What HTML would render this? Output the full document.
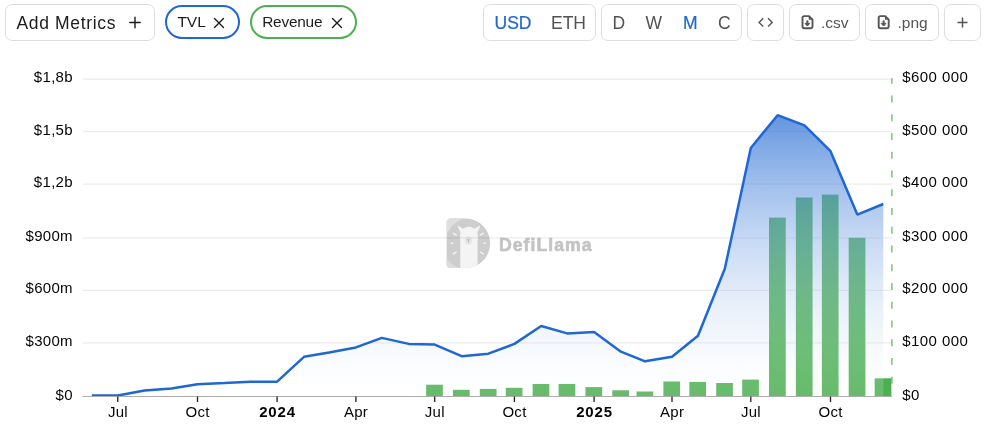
<!DOCTYPE html>
<html><head><meta charset="utf-8">
<style>
html,body{margin:0;padding:0;background:#fff;}
body{width:987px;height:427px;position:relative;overflow:hidden;font-family:"Liberation Sans",sans-serif;color:#222;}
.btn{position:absolute;top:4px;height:37px;box-sizing:border-box;border:1px solid #dedee0;border-radius:7px;background:#fff;}
.t{position:absolute;white-space:nowrap;line-height:20px;}
.chip{position:absolute;top:5px;height:34px;box-sizing:border-box;border-radius:17px;border:2px solid #1f67d2;}
.yl{position:absolute;left:0;width:72.9px;text-align:right;font-size:15px;line-height:20px;color:#050505;white-space:nowrap;letter-spacing:0.3px;}
.yr{position:absolute;left:902.3px;font-size:15px;line-height:20px;color:#050505;white-space:nowrap;letter-spacing:0.42px;}
.xl{position:absolute;top:402px;width:60px;text-align:center;font-size:15px;line-height:20px;color:#050505;white-space:nowrap;letter-spacing:0.3px;padding-left:0.3px;box-sizing:border-box;}
.xl.b{font-weight:bold;letter-spacing:0.8px;padding-left:0.8px;box-sizing:border-box;}
svg{position:absolute;left:0;top:0;}
#root{position:absolute;left:0;top:0;width:987px;height:427px;will-change:transform;}
</style></head><body><div id="root">
<!-- toolbar -->
<div class="btn" style="left:5px;width:150px;"></div>
<div class="t" style="left:16.5px;top:13px;font-size:17.5px;color:#1c1c1e;letter-spacing:0.65px;">Add Metrics</div>
<div class="chip" style="left:165px;width:75px;"></div>
<div class="t" style="left:177.4px;top:11.85px;font-size:15.5px;color:#1c1c1e;">TVL</div>
<div class="chip" style="left:250px;width:107px;border-color:#4caf50;"></div>
<div class="t" style="left:262.2px;top:11.85px;font-size:15.4px;color:#1c1c1e;letter-spacing:-0.22px;">Revenue</div>
<div class="btn" style="left:483px;width:113px;"></div>
<div class="t" style="left:494.5px;top:13px;font-size:17.5px;color:#1f67d2;-webkit-text-stroke:0.2px #1f67d2;">USD</div>
<div class="t" style="left:551px;top:13px;font-size:17.5px;color:#525252;">ETH</div>
<div class="btn" style="left:601px;width:141px;"></div>
<div class="t" style="left:612.5px;top:13px;font-size:17.5px;color:#525252;">D</div>
<div class="t" style="left:645.5px;top:13px;font-size:17.5px;color:#525252;">W</div>
<div class="t" style="left:683px;top:13px;font-size:17.5px;color:#1f67d2;-webkit-text-stroke:0.2px #1f67d2;">M</div>
<div class="t" style="left:718px;top:13px;font-size:17.5px;color:#525252;">C</div>
<div class="btn" style="left:747px;width:37px;"></div>
<div class="btn" style="left:789px;width:71px;"></div>
<div class="t" style="left:821px;top:13px;font-size:15.5px;color:#545454;">.csv</div>
<div class="btn" style="left:865px;width:74px;"></div>
<div class="t" style="left:897.5px;top:13px;font-size:15.5px;color:#545454;">.png</div>
<div class="btn" style="left:944px;width:37px;"></div>

<svg width="987" height="427" viewBox="0 0 987 427">
<defs>
<linearGradient id="ag" gradientUnits="userSpaceOnUse" x1="0" y1="115" x2="0" y2="396">
<stop offset="0" stop-color="#1f67d2" stop-opacity="0.7"/>
<stop offset="1" stop-color="#ffffff" stop-opacity="0.15"/>
</linearGradient>
</defs>
<!-- toolbar icons -->
<g stroke="#1c1c1e" stroke-width="1.4" fill="none" stroke-linecap="round">
<path d="M135 17.3v10.4M129.8 22.5h10.4"/>
<path d="M214.5 18.5l9 9M223.5 18.5l-9 9"/>
<path d="M332.5 18.5l9 9M341.5 18.5l-9 9"/>
</g>
<g stroke="#555" stroke-width="1.5" fill="none" stroke-linecap="square" stroke-linejoin="miter">
<path d="M763.2 18.3l-4.1 4.100 4.1 4.100M768.1 18.3l4.1 4.100-4.1 4.100" stroke-width="1.4" stroke-linecap="butt"/>
<path d="M962.5 17.5v10M957.5 22.5h10" stroke-linecap="butt"/>
</g>
<g id="fi" stroke="#555" stroke-width="1.9" fill="none" stroke-linecap="round" stroke-linejoin="round">
<path d="M804.2 16.1h4.8l3.5 3.5v7a1.7 1.7 0 0 1-1.7 1.7h-6.6a1.7 1.7 0 0 1-1.7-1.7v-8.8a1.7 1.7 0 0 1 1.7-1.7z"/>
<path d="M809.3 16.3v2.9h2.9" stroke-width="1.2"/>
<path d="M807.4 21.2v3.4" stroke-width="2"/>
<path d="M805.3 23.7l2.1 2.3 2.1-2.3z" fill="#555" stroke-width="1"/>
</g>
<use href="#fi" x="76.2"/>
<!-- watermark -->
<g id="wm">
<clipPath id="dc"><path d="M450.6 218.6h15.4a24.1 24.7 0 0 1 0 49.4h-15.4a4 4 0 0 1-4-4v-41.4a4 4 0 0 1 4-4z"/></clipPath>
<path d="M450.6 218.6h15.4a24.1 24.7 0 0 1 0 49.4h-15.4a4 4 0 0 1-4-4v-41.4a4 4 0 0 1 4-4z" fill="#cdcdcd"/>
<g clip-path="url(#dc)">
<path d="M446 218h21a26 26 0 0 0-21 19z" fill="#dfdfdf"/>
<path d="M446 268.500h16a26 26 0 0 1-16-11z" fill="#dcdcdc"/>
<path d="M475 218h16v12a24 24 0 0 0-16-12z" fill="#d3d3d3"/>
<!-- llama -->
<path d="M457.4 225.6c1.6 .6 4 2 5.600 3.400c.7-.9 1.500-1.300 2.300-1.200c.6-.9 1.500-1.300 2.400-.9c.5-.7 1.600-.7 2.100 0c.9-.4 1.800 0 2.400 .9c.8-.1 1.600 .3 2.300 1.200c1.600-1.400 4-2.800 5.600-3.400c-.4 2.400-1.500 5-2.900 6.800c.5 1.200 .8 2.800 .6 4.400c.4 1.300 .3 2.700-.2 3.600v28h-17.300v-28c-.5-.9-.6-2.300-.2-3.600c-.2-1.600 .1-3.200 .6-4.400c-1.400-1.800-2.500-4.400-2.900-6.800z" fill="#f4f4f4"/>
<ellipse cx="468.4" cy="240.6" rx="3.7" ry="4.3" fill="#e7e7e7"/>
<path d="M466.500 239.300h3.800l-1.500 2v1.700h-.8v-1.700z" fill="#bcbcbc"/>
<g stroke="#f2f2f2" stroke-width="1.5" stroke-linecap="round">
<path d="M453.400 233.300l2.800 1.700M451.300 243.300h1.400M453.400 253.900l2.800-1.700M483.200 233.300l-2.800 1.700M485.300 243.300h-1.400M483.200 253.900l-2.800-1.700"/>
</g>
</g>
<text x="499" y="250.900" font-family="Liberation Sans" font-weight="bold" font-size="17.600" fill="#c3c3c3" stroke="#c3c3c3" stroke-width="0.6" stroke-linejoin="round" letter-spacing="1.050">DefiLlama</text>
</g>
<!-- grid -->
<g stroke="#000" stroke-opacity="0.08" stroke-width="1.25"><line x1="83" x2="892" y1="79.00" y2="79.00"/><line x1="83" x2="892" y1="131.55" y2="131.55"/><line x1="83" x2="892" y1="184.00" y2="184.00"/><line x1="83" x2="892" y1="237.85" y2="237.85"/><line x1="83" x2="892" y1="290.35" y2="290.35"/><line x1="83" x2="892" y1="342.90" y2="342.90"/></g>
<!-- bars -->
<g fill="#4caf50"><rect x="426.13" y="384.7" width="16.7" height="11.3"/><rect x="452.97" y="389.8" width="16.7" height="6.2"/><rect x="479.81" y="388.9" width="16.7" height="7.1"/><rect x="505.79" y="387.8" width="16.7" height="8.2"/><rect x="532.63" y="384.0" width="16.7" height="12.0"/><rect x="558.61" y="384.0" width="16.7" height="12.0"/><rect x="585.45" y="387.1" width="16.7" height="8.9"/><rect x="612.30" y="390.3" width="16.7" height="5.7"/><rect x="636.54" y="391.5" width="16.7" height="4.5"/><rect x="663.39" y="381.5" width="16.7" height="14.5"/><rect x="689.36" y="381.9" width="16.7" height="14.1"/><rect x="716.21" y="383.0" width="16.7" height="13.0"/><rect x="742.19" y="379.6" width="16.7" height="16.4"/><rect x="769.03" y="217.6" width="16.7" height="178.4"/><rect x="795.87" y="197.5" width="16.7" height="198.5"/><rect x="821.85" y="194.6" width="16.7" height="201.4"/><rect x="848.69" y="237.8" width="16.7" height="158.2"/><rect x="874.67" y="378.3" width="16.7" height="17.7"/></g>
<!-- area -->
<polygon points="91.8,395.5 117.8,395.5 144.6,390.6 171.5,388.6 197.5,384.2 224.3,383.0 250.3,381.7 277.1,381.7 304.0,356.8 329.1,352.4 355.9,347.4 381.9,337.9 408.7,343.9 434.7,344.6 461.6,356.2 488.4,353.7 514.4,343.9 541.2,326.0 567.2,333.4 594.1,332.1 620.9,351.7 645.1,361.3 672.0,356.8 698.0,335.8 724.8,268.8 750.8,148.0 777.6,115.2 804.5,125.4 830.5,151.2 857.3,214.6 883.3,204.0 883.3,396 91.8,396" fill="url(#ag)"/>
<polyline points="91.8,395.5 117.8,395.5 144.6,390.6 171.5,388.6 197.5,384.2 224.3,383.0 250.3,381.7 277.1,381.7 304.0,356.8 329.1,352.4 355.9,347.4 381.9,337.9 408.7,343.9 434.7,344.6 461.6,356.2 488.4,353.7 514.4,343.9 541.2,326.0 567.2,333.4 594.1,332.1 620.9,351.7 645.1,361.3 672.0,356.8 698.0,335.8 724.8,268.8 750.8,148.0 777.6,115.2 804.5,125.4 830.5,151.2 857.3,214.6 883.3,204.0" fill="none" stroke="#1f67d2" stroke-width="2.5" stroke-linejoin="bevel"/>
<!-- axis -->
<line x1="82.5" x2="892" y1="396.5" y2="396.5" stroke="#adadad" stroke-width="1"/>
<g stroke="#262626" stroke-width="1.35"><line x1="117.8" x2="117.8" y1="396.5" y2="402"/><line x1="197.5" x2="197.5" y1="396.5" y2="402"/><line x1="277.1" x2="277.1" y1="396.5" y2="402"/><line x1="355.9" x2="355.9" y1="396.5" y2="402"/><line x1="434.7" x2="434.7" y1="396.5" y2="402"/><line x1="514.4" x2="514.4" y1="396.5" y2="402"/><line x1="594.1" x2="594.1" y1="396.5" y2="402"/><line x1="672.0" x2="672.0" y1="396.5" y2="402"/><line x1="750.8" x2="750.8" y1="396.5" y2="402"/><line x1="830.5" x2="830.5" y1="396.5" y2="402"/></g>
<line x1="891.9" x2="891.9" y1="78.3" y2="395.5" stroke="#5cb860" stroke-width="1.25" stroke-dasharray="7.1 11.65" stroke-dashoffset="1.55"/>
</svg>
<div class="xl" style="left:87.8px">Jul</div><div class="xl" style="left:167.5px">Oct</div><div class="xl b" style="left:247.1px">2024</div><div class="xl" style="left:325.9px">Apr</div><div class="xl" style="left:404.7px">Jul</div><div class="xl" style="left:484.4px">Oct</div><div class="xl b" style="left:564.1px">2025</div><div class="xl" style="left:642.0px">Apr</div><div class="xl" style="left:720.8px">Jul</div><div class="xl" style="left:800.5px">Oct</div>
<div class="yl" style="top:67.0px">$1,8b</div><div class="yr" style="top:67.0px">$600 000</div><div class="yl" style="top:119.6px">$1,5b</div><div class="yr" style="top:119.6px">$500 000</div><div class="yl" style="top:172.0px">$1,2b</div><div class="yr" style="top:172.0px">$400 000</div><div class="yl" style="top:225.8px">$900m</div><div class="yr" style="top:225.8px">$300 000</div><div class="yl" style="top:278.4px">$600m</div><div class="yr" style="top:278.4px">$200 000</div><div class="yl" style="top:330.9px">$300m</div><div class="yr" style="top:330.9px">$100 000</div><div class="yl" style="top:384.5px">$0</div><div class="yr" style="top:384.5px">$0</div>
</div></body></html>
